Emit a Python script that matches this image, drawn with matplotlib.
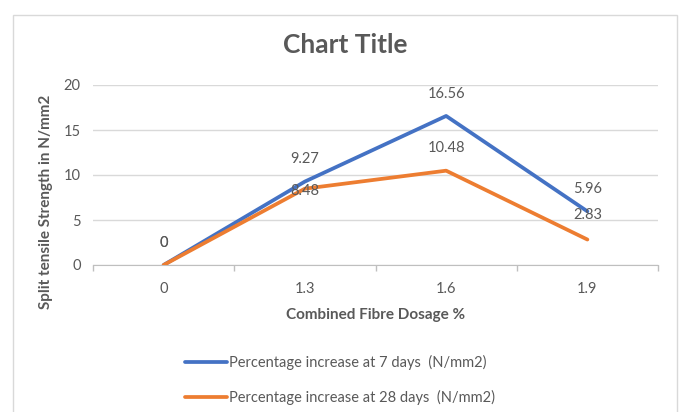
import matplotlib.pyplot as plt
from matplotlib.patches import Rectangle

# Split tensile strength vs combined fibre dosage
dosage = ['0', '1.3', '1.6', '1.9']
days7 = [0, 9.27, 16.56, 5.96]
days28 = [0, 8.48, 10.48, 2.83]
series_names = ['Percentage increase at 7 days  (N/mm2)',
                'Percentage increase at 28 days  (N/mm2)']

plt.rcParams['font.family'] = ['Lato', 'DejaVu Sans']
txt = '#595959'

fig = plt.figure(figsize=(6.8, 4.12), dpi=100)
fig.patches.append(Rectangle((13 / 680, -0.1), 664 / 680, 1.1 - 15 / 412,
                             transform=fig.transFigure, fill=False,
                             edgecolor='#D9D9D9', lw=1))

ax = fig.add_axes([93 / 680, (412 - 265) / 412, 565 / 680, 180 / 412])
x = range(len(dosage))
ax.plot(x, days7, color='#4472C4', lw=2.7, solid_capstyle='round',
        label=series_names[0], zorder=3)
ax.plot(x, days28, color='#ED7D31', lw=2.7, solid_capstyle='round',
        label=series_names[1], zorder=3)

# data labels
for i, v in enumerate(days7):
    ax.annotate(f'{v:g}', (i, v), xytext=(0, 16), textcoords='offset points',
                ha='center', va='center', fontsize=10.5, color=txt, zorder=4)
offs28 = [16, -2, 16, 18]
for i, v in enumerate(days28):
    ax.annotate(f'{v:g}', (i, v), xytext=(0, offs28[i]), textcoords='offset points',
                ha='center', va='center', fontsize=10.5, color=txt, zorder=4)

ax.set_xlim(-0.5, 3.5)
ax.set_ylim(0, 20)
ax.set_yticks([0, 5, 10, 15, 20])
ax.set_xticks(list(x))
ax.set_xticklabels(dosage)
ax.set_xticks([-0.5, 0.5, 1.5, 2.5, 3.5], minor=True)
ax.tick_params(axis='x', which='major', length=0, pad=12, labelsize=10.5, labelcolor=txt)
ax.tick_params(axis='x', which='minor', length=4, color='#BFBFBF', width=1)
ax.tick_params(axis='y', length=0, pad=9, labelsize=10.5, labelcolor=txt)
ax.grid(axis='y', color='#D9D9D9', lw=1)
ax.set_axisbelow(True)
for s in ['top', 'right', 'left']:
    ax.spines[s].set_visible(False)
ax.spines['bottom'].set_color('#BFBFBF')

fig.text(345 / 680, 1 - 45 / 412, 'Chart Title', fontsize=19, fontweight='bold',
         color=txt, ha='center', va='center')
ax.set_xlabel('Combined Fibre Dosage %', fontsize=11, fontweight='bold',
              color=txt, labelpad=9)
ax.set_ylabel('Split tensile Strength in N/mm2', fontsize=11, fontweight='bold',
              color=txt)
ax.yaxis.set_label_coords(-40 / 565, 0.35)

fig.legend(loc='upper left', bbox_to_anchor=(172 / 680, 1 - 342 / 412),
           frameon=False, fontsize=10.5, labelcolor=txt, handlelength=2.9,
           handletextpad=0.1, labelspacing=1.35)

fig.savefig('out.png', dpi=100)
